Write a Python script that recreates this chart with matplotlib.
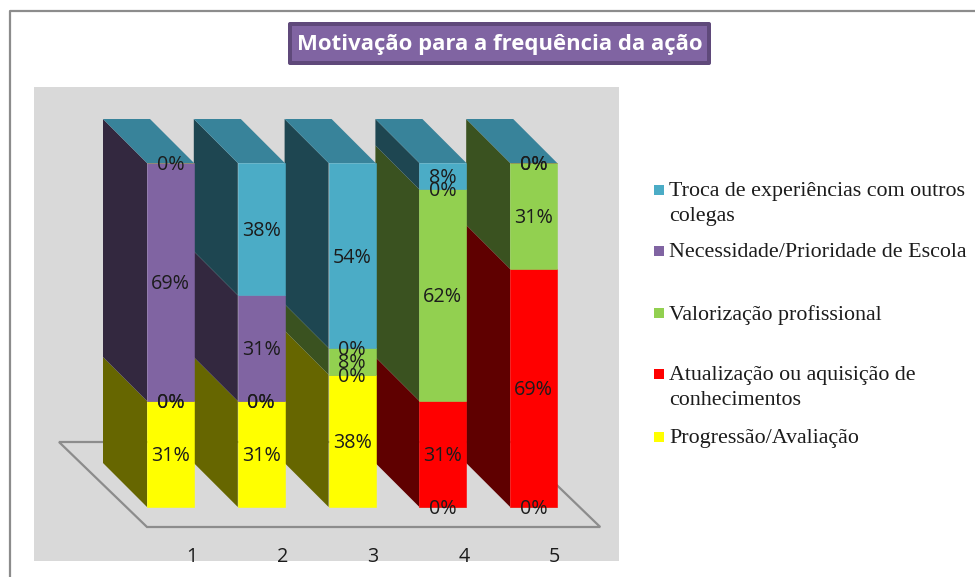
#!/usr/bin/env python3
# -*- coding: utf-8 -*-
"""Pseudo-3D stacked bars: Motivação para a frequência da ação."""

import matplotlib

matplotlib.use("Agg")

import matplotlib.pyplot as plt
from matplotlib.patches import FancyBboxPatch, Polygon, Rectangle
from matplotlib.transforms import IdentityTransform

CATEGORIES = [1, 2, 3, 4, 5]
PROGRESSAO = [30.8, 30.8, 38.5, 0, 0]
ATUALIZACAO = [0, 0, 0, 30.8, 69.2]
VALORIZACAO = [0, 0, 7.7, 61.5, 30.8]
NECESSIDADE = [69.2, 30.8, 0, 0, 0]
TROCA = [0, 38.5, 53.8, 7.7, 0]

TITLE = "Motivação para a frequência da ação"
LEGEND_LABELS = [
    "Troca de experiências com outros\ncolegas",
    "Necessidade/Prioridade de Escola",
    "Valorização profissional",
    "Atualização ou aquisição de\nconhecimentos",
    "Progressão/Avaliação",
]

W, H = 975, 577
PANEL = (34, 87, 619, 561)  # left, top, right, bottom in pixels
PX_PER_CAT = 90.8
PX_PER_PCT = 3.44
FIRST_X = 170.5
BASE_Y = 507
BAR_W = 47 / PX_PER_CAT
DX = -44 / PX_PER_CAT
DY = 44 / PX_PER_PCT
LABEL_SHIFT = -2 / PX_PER_PCT

FONT = "Open Sans"
INK = "#1c1c1c"
LINE = "#8c8c8c"

# front, side
YELLOW = ("#ffff00", "#666600")
RED = ("#ff0000", "#5f0000")
GREEN = ("#92d050", "#3a5220")
PURPLE = ("#8064a2", "#33283f")
CYAN = ("#4bacc6", "#1e4651")
CYAN_TOP = "#38839a"


def _fig_rect(x0, y0, x1, y1):
    """Pixel box (y down) to figure fractions [left, bottom, width, height]."""
    return [x0 / W, 1 - y1 / H, (x1 - x0) / W, (y1 - y0) / H]


def _draw_frame(fig):
    fig.add_artist(plt.Line2D([10 / W, 10 / W, 1], [0, 1 - 11 / H, 1 - 11 / H], color=LINE, lw=1.6))
    fig.add_artist(FancyBboxPatch((290, H - 63), 419, 39, boxstyle="round,pad=2,rounding_size=2",
                                  transform=IdentityTransform(), fc="#5f497a", ec="none"))
    x0, y0, w, h = _fig_rect(292, 26, 707, 61)
    fig.add_artist(Rectangle((x0, y0), w, h, transform=fig.transFigure, fc="#8064a2", ec="none"))
    fig.text(499.5 / W, 1 - 44.5 / H, TITLE, color="white", fontsize=15.9, fontweight="bold",
             family=FONT, ha="center", va="center")


def _draw_floor(ax):
    left = CATEGORIES[0] - BAR_W / 2
    right = CATEGORIES[-1] + BAR_W / 2
    low = -20 / PX_PER_PCT
    extra = 43 / PX_PER_CAT
    back = low + 85 / PX_PER_PCT
    pts = [(left + 2 * DX, back), (right + 2 * DX + extra, back), (right + extra, low), (left, low)]
    ax.add_patch(Polygon(pts, closed=True, fc="none", ec=LINE, lw=1.6, zorder=1))


def _draw_bars(ax):
    series = [
        (PROGRESSAO, YELLOW),
        (ATUALIZACAO, RED),
        (VALORIZACAO, GREEN),
        (NECESSIDADE, PURPLE),
        (TROCA, CYAN),
    ]
    # the chart is a 100% stack, so every column reaches the same top
    totals = [sum(s[0][i] for s in series) for i in range(len(CATEGORIES))]
    bottoms = [0.0] * len(CATEGORIES)
    for values, (front, side) in series:
        heights = [100.0 * v / t for v, t in zip(values, totals)]
        edges = [front if v > 0 else "#8f8f50" for v in values]
        ax.bar(CATEGORIES, heights, BAR_W, bottom=bottoms, color=front, edgecolor=edges,
               linewidth=0.4, zorder=3)
        for cat, val, height, base in zip(CATEGORIES, values, heights, bottoms):
            x = cat - BAR_W / 2
            ax.add_patch(Polygon(
                [(x, base), (x, base + height), (x + DX, base + height + DY), (x + DX, base + DY)],
                closed=True, fc=side, ec="none", zorder=2,
            ))
            ax.text(cat, base + height / 2 + LABEL_SHIFT, "{:.0f}%".format(val), ha="center", va="center",
                    fontsize=14.2, family=FONT, color=INK, zorder=5)
        bottoms = [b + h for b, h in zip(bottoms, heights)]
    for cat, top in zip(CATEGORIES, bottoms):
        x = cat - BAR_W / 2
        ax.add_patch(Polygon(
            [(x, top), (x + BAR_W, top), (x + BAR_W + DX, top + DY), (x + DX, top + DY)],
            closed=True, fc=CYAN_TOP, ec="none", zorder=2,
        ))


def _draw_legend(fig):
    colors = [CYAN[0], PURPLE[0], GREEN[0], RED[0], YELLOW[0]]
    rows = [190, 251, 313, 374, 437]
    for color, label, y in zip(colors, LEGEND_LABELS, rows):
        x0, y0, w, h = _fig_rect(654, y - 5, 664, y + 5)
        fig.add_artist(Rectangle((x0, y0), w, h, transform=fig.transFigure, fc=color, ec="none"))
        fig.text(669 / W, 1 - (y - 8) / H, label, family="Liberation Serif", fontsize=15.8,
                 color=INK, ha="left", va="top", linespacing=1.43)


def main():
    fig = plt.figure(figsize=(W / 100, H / 100), dpi=100, facecolor="white")
    left, top, right, bottom = PANEL
    ax = fig.add_axes(_fig_rect(left, top, right, bottom), facecolor="#d9d9d9")
    ax.set_xlim(1 + (left - FIRST_X) / PX_PER_CAT, 1 + (right - FIRST_X) / PX_PER_CAT)
    ax.set_ylim((BASE_Y - bottom) / PX_PER_PCT, (BASE_Y - top) / PX_PER_PCT)
    ax.set_axis_off()
    ax.add_patch(Rectangle((0, 0), 1, 1, transform=ax.transAxes, fc="#d9d9d9", ec="none", zorder=0))

    _draw_floor(ax)
    _draw_bars(ax)
    for cat in CATEGORIES:
        ax.text(cat + 21 / PX_PER_CAT, -49.5 / PX_PER_PCT, str(cat), ha="center", va="center",
                fontsize=14.2, family=FONT, color=INK, zorder=5)

    _draw_frame(fig)
    _draw_legend(fig)
    fig.savefig("out.png", dpi=100)
    plt.close(fig)


if __name__ == "__main__":
    main()
